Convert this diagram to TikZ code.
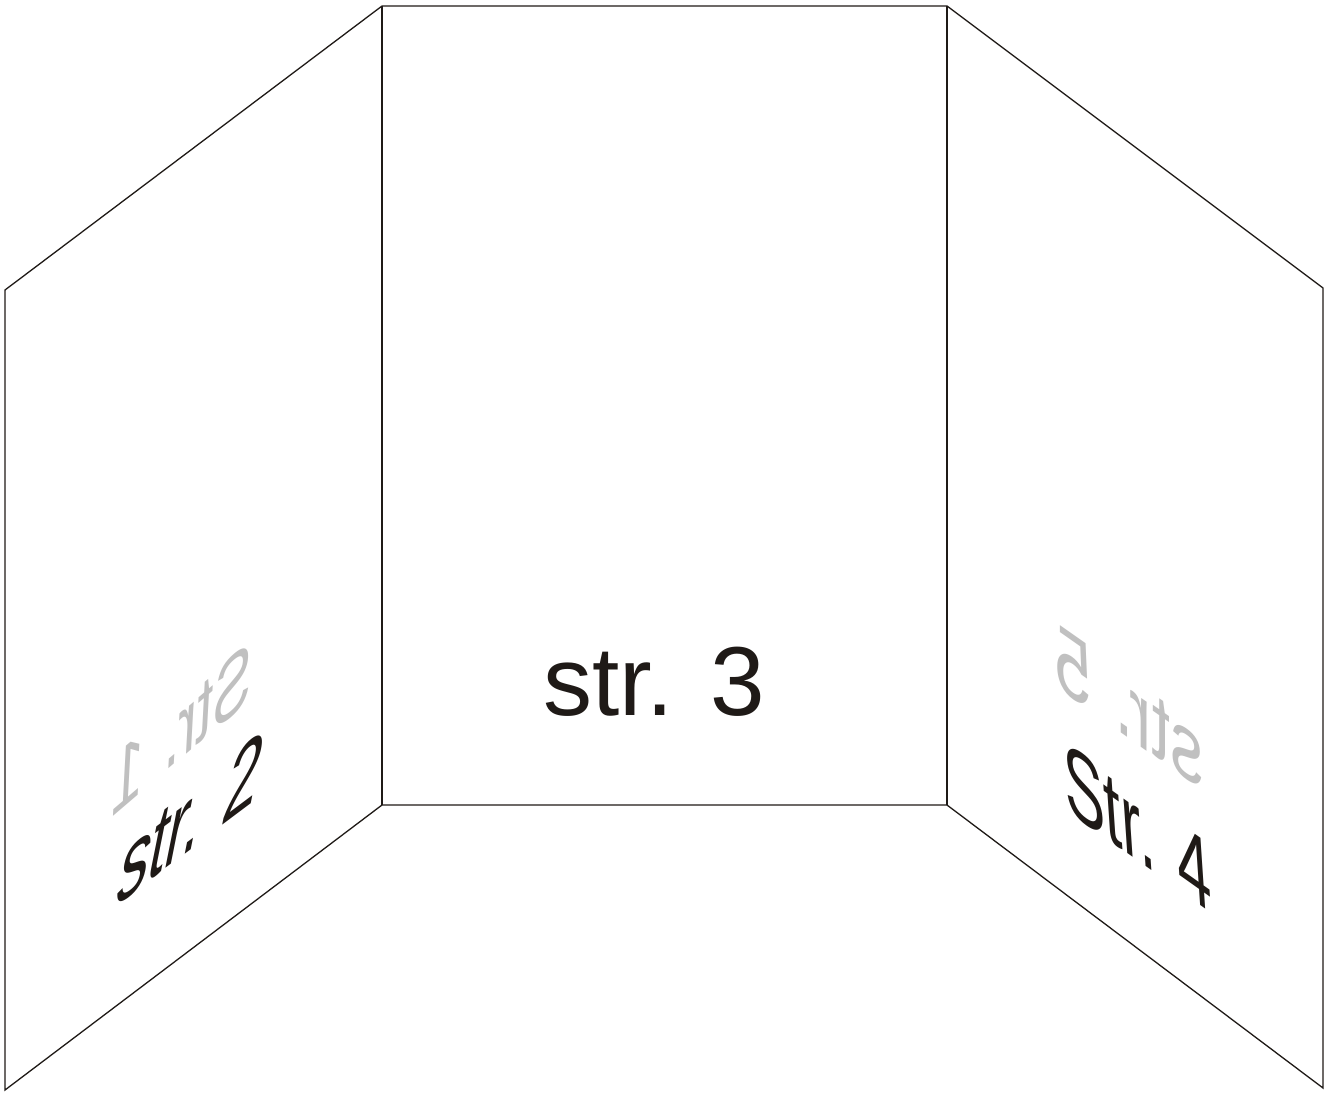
\documentclass[tikz,border=0pt]{standalone}
\usepackage{fontspec}
\setmainfont{Liberation Sans}
\definecolor{ink}{RGB}{31,26,23}
\definecolor{ghost}{RGB}{192,192,192}
\tikzset{
  edge/.style={draw=ink, line width=1.3pt, line join=miter},
  pagelabel/.style={inner sep=0pt, outer sep=0pt, transform shape,
    font=\fontsize{98}{98}\selectfont},
}
\begin{document}
\begin{tikzpicture}[x=1pt,y=-1pt]
\useasboundingbox[fill=white] (0,0) rectangle (1335,1092);
% corners
\coordinate (LT) at (5,290);
\coordinate (LB) at (5,1090);
\coordinate (CTL) at (382,6);
\coordinate (CTR) at (947,6);
\coordinate (CBL) at (382,805);
\coordinate (CBR) at (947,805);
\coordinate (RT) at (1323,288);
\coordinate (RB) at (1323,1088);
% outline and folds
\draw[edge] (LT) -- (CTL) -- (CTR) -- (RT) -- (RB) -- (CBR) -- (CBL) -- (LB) -- cycle;
\draw[edge] (CTL) -- (CBL);
\draw[edge] (CTR) -- (CBR);
% centre page
\node[pagelabel, text=ink, anchor=base] (p3) at (654,715) {str. 3};
% left page
\begin{scope}[shift={(250,700)}]
  \node[pagelabel, text=ghost, anchor=base west, cm={-0.585,-0.5,0.05,0.92,(0,0)}] (p1) at (0,0) {Str. 1};
\end{scope}
\begin{scope}[shift={(113,908)}]
  \node[pagelabel, text=ink, anchor=base west, cm={0.64,0.48,0.22,1.1,(0,0)}] (p2) at (0,0) {str. 2};
\end{scope}
% right page
\begin{scope}[shift={(1203,790)}]
  \node[pagelabel, text=ghost, anchor=base west, cm={-0.67,0.47,0,0.95,(0,0)}] (p5) at (0,0) {str. 5};
\end{scope}
\begin{scope}[shift={(1066,810)}]
  \node[pagelabel, text=ink, anchor=base west, cm={0.62,-0.44,-0.07,1.05,(0,0)}] (p4) at (0,0) {Str. 4};
\end{scope}
\end{tikzpicture}
\end{document}
